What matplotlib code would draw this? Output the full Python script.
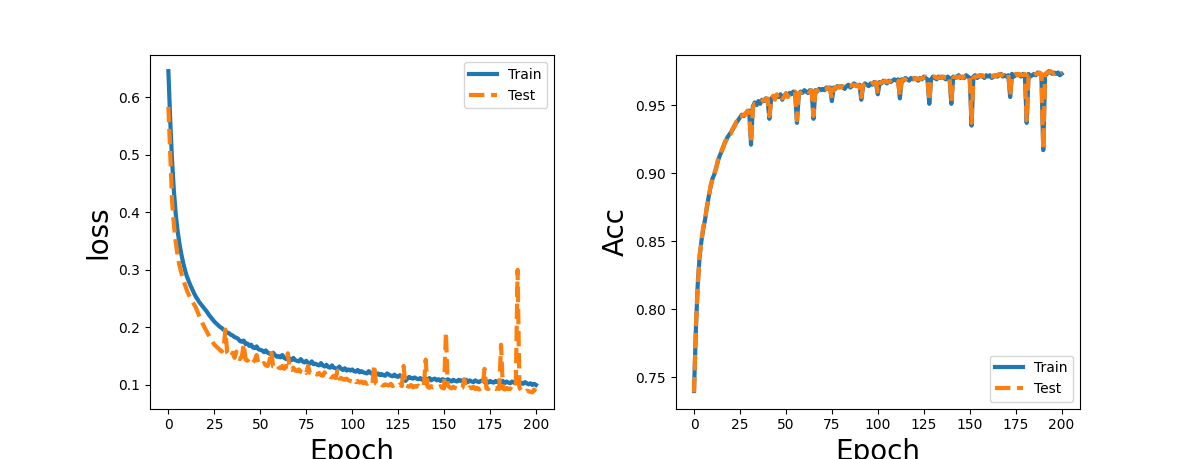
import matplotlib
matplotlib.use("Agg")
import matplotlib.pyplot as plt
import numpy as np

epochs = np.arange(201)

train_loss = [
    0.645, 0.560, 0.490, 0.437, 0.397, 0.368, 0.346, 0.328, 0.313, 0.300,
    0.289, 0.281, 0.273, 0.266, 0.259, 0.253, 0.248, 0.243, 0.239, 0.235,
    0.231, 0.227, 0.222, 0.218, 0.214, 0.210, 0.207, 0.204, 0.201, 0.199,
    0.196, 0.194, 0.191, 0.190, 0.187, 0.186, 0.183, 0.182, 0.180, 0.176,
    0.175, 0.177, 0.171, 0.172, 0.168, 0.170, 0.165, 0.164, 0.167, 0.162,
    0.161, 0.160, 0.157, 0.160, 0.156, 0.155, 0.152, 0.156, 0.152, 0.149,
    0.150, 0.148, 0.152, 0.147, 0.145, 0.149, 0.145, 0.143, 0.147, 0.143,
    0.142, 0.141, 0.145, 0.141, 0.139, 0.142, 0.138, 0.137, 0.141, 0.136,
    0.137, 0.135, 0.134, 0.138, 0.134, 0.132, 0.135, 0.131, 0.130, 0.134,
    0.130, 0.129, 0.128, 0.132, 0.128, 0.126, 0.129, 0.125, 0.127, 0.125,
    0.127, 0.124, 0.123, 0.126, 0.122, 0.124, 0.122, 0.121, 0.120, 0.124,
    0.121, 0.119, 0.122, 0.118, 0.120, 0.117, 0.119, 0.117, 0.116, 0.120,
    0.118, 0.116, 0.115, 0.118, 0.115, 0.114, 0.117, 0.114, 0.113, 0.107,
    0.111, 0.114, 0.112, 0.111, 0.113, 0.111, 0.110, 0.112, 0.109, 0.111,
    0.111, 0.109, 0.112, 0.108, 0.110, 0.111, 0.108, 0.110, 0.107, 0.110,
    0.109, 0.107, 0.110, 0.108, 0.106, 0.109, 0.107, 0.106, 0.109, 0.107,
    0.108, 0.106, 0.109, 0.105, 0.108, 0.106, 0.105, 0.108, 0.106, 0.105,
    0.107, 0.108, 0.105, 0.107, 0.104, 0.107, 0.105, 0.104, 0.107, 0.105,
    0.106, 0.104, 0.107, 0.103, 0.106, 0.104, 0.103, 0.106, 0.104, 0.103,
    0.105, 0.106, 0.103, 0.102, 0.105, 0.103, 0.101, 0.103, 0.100, 0.102,
    0.100,
]

test_loss = [
    0.583, 0.500, 0.420, 0.378, 0.348, 0.325, 0.308, 0.295, 0.284, 0.274,
    0.265, 0.257, 0.251, 0.245, 0.240, 0.234, 0.226, 0.218, 0.211, 0.204,
    0.198, 0.192, 0.186, 0.180, 0.175, 0.170, 0.167, 0.164, 0.161, 0.158,
    0.162, 0.196, 0.156, 0.152, 0.149, 0.156, 0.147, 0.158, 0.146, 0.145,
    0.150, 0.171, 0.144, 0.142, 0.146, 0.140, 0.139, 0.143, 0.152, 0.137,
    0.136, 0.135, 0.138, 0.134, 0.133, 0.142, 0.159, 0.132, 0.131, 0.135,
    0.130, 0.129, 0.133, 0.128, 0.131, 0.155, 0.127, 0.126, 0.130, 0.125,
    0.124, 0.127, 0.123, 0.122, 0.126, 0.121, 0.133, 0.121, 0.120, 0.123,
    0.119, 0.118, 0.121, 0.117, 0.116, 0.122, 0.115, 0.117, 0.114, 0.113,
    0.116, 0.112, 0.125, 0.111, 0.112, 0.110, 0.109, 0.111, 0.108, 0.107,
    0.106, 0.110, 0.105, 0.107, 0.104, 0.106, 0.103, 0.105, 0.102, 0.104,
    0.103, 0.101, 0.135, 0.102, 0.100, 0.103, 0.100, 0.099, 0.101, 0.100,
    0.099, 0.102, 0.098, 0.100, 0.099, 0.097, 0.101, 0.098, 0.133, 0.099,
    0.098, 0.097, 0.100, 0.096, 0.098, 0.097, 0.099, 0.096, 0.097, 0.098,
    0.144, 0.097, 0.095, 0.098, 0.096, 0.097, 0.095, 0.096, 0.098, 0.095,
    0.094, 0.191, 0.099, 0.096, 0.094, 0.097, 0.095, 0.094, 0.096, 0.093,
    0.095, 0.110, 0.094, 0.093, 0.096, 0.094, 0.097, 0.093, 0.095, 0.092,
    0.094, 0.096, 0.128, 0.094, 0.093, 0.095, 0.092, 0.094, 0.093, 0.095,
    0.093, 0.170, 0.094, 0.092, 0.095, 0.093, 0.094, 0.092, 0.093, 0.095,
    0.300, 0.095, 0.091, 0.088, 0.087, 0.090, 0.089, 0.088, 0.087, 0.092,
    0.089,
]

train_acc = [
    0.740, 0.785, 0.818, 0.838, 0.850, 0.859, 0.866, 0.875, 0.883, 0.890,
    0.896, 0.899, 0.904, 0.909, 0.913, 0.916, 0.920, 0.923, 0.926, 0.928,
    0.930, 0.932, 0.935, 0.937, 0.939, 0.941, 0.943, 0.942, 0.944, 0.945,
    0.946, 0.921, 0.949, 0.952, 0.950, 0.953, 0.951, 0.954, 0.953, 0.955,
    0.954, 0.940, 0.955, 0.956, 0.955, 0.957, 0.956, 0.958, 0.954, 0.957,
    0.958, 0.957, 0.959, 0.958, 0.960, 0.959, 0.937, 0.958, 0.960, 0.959,
    0.961, 0.960, 0.959, 0.961, 0.960, 0.940, 0.961, 0.960, 0.962, 0.961,
    0.962, 0.961, 0.963, 0.962, 0.963, 0.953, 0.963, 0.962, 0.964, 0.963,
    0.964, 0.963, 0.962, 0.964, 0.965, 0.963, 0.964, 0.966, 0.965, 0.964,
    0.965, 0.954, 0.964, 0.966, 0.965, 0.964, 0.966, 0.965, 0.967, 0.966,
    0.958, 0.967, 0.966, 0.968, 0.967, 0.966, 0.968, 0.967, 0.968, 0.969,
    0.968, 0.969, 0.955, 0.969, 0.968, 0.970, 0.969, 0.968, 0.970, 0.969,
    0.970, 0.969, 0.968, 0.970, 0.969, 0.971, 0.970, 0.969, 0.951, 0.969,
    0.971, 0.970, 0.969, 0.971, 0.970, 0.971, 0.970, 0.969, 0.971, 0.970,
    0.951, 0.971, 0.970, 0.971, 0.972, 0.970, 0.971, 0.970, 0.972, 0.971,
    0.970, 0.935, 0.971, 0.972, 0.970, 0.971, 0.972, 0.971, 0.970, 0.972,
    0.971, 0.972, 0.970, 0.971, 0.972, 0.971, 0.972, 0.973, 0.971, 0.972,
    0.971, 0.972, 0.956, 0.973, 0.971, 0.972, 0.973, 0.972, 0.971, 0.973,
    0.972, 0.937, 0.973, 0.971, 0.972, 0.973, 0.972, 0.974, 0.973, 0.972,
    0.917, 0.972, 0.973, 0.975, 0.974, 0.973, 0.974, 0.973, 0.974, 0.972,
    0.973,
]

test_acc = [
    0.739, 0.787, 0.816, 0.840, 0.849, 0.861, 0.865, 0.876, 0.882, 0.891,
    0.895, 0.900, 0.903, 0.910, 0.912, 0.917, 0.919, 0.924, 0.925, 0.929,
    0.929, 0.933, 0.934, 0.938, 0.938, 0.942, 0.942, 0.943, 0.943, 0.946,
    0.945, 0.923, 0.948, 0.951, 0.951, 0.952, 0.952, 0.953, 0.954, 0.954,
    0.955, 0.942, 0.954, 0.957, 0.954, 0.958, 0.955, 0.957, 0.955, 0.956,
    0.959, 0.956, 0.958, 0.959, 0.959, 0.960, 0.939, 0.959, 0.959, 0.960,
    0.960, 0.961, 0.960, 0.960, 0.961, 0.942, 0.960, 0.961, 0.961, 0.962,
    0.961, 0.962, 0.962, 0.963, 0.962, 0.955, 0.962, 0.963, 0.963, 0.964,
    0.963, 0.964, 0.963, 0.963, 0.964, 0.964, 0.965, 0.965, 0.964, 0.965,
    0.964, 0.956, 0.965, 0.965, 0.966, 0.965, 0.965, 0.966, 0.966, 0.967,
    0.960, 0.966, 0.967, 0.967, 0.968, 0.967, 0.967, 0.968, 0.969, 0.968,
    0.969, 0.968, 0.957, 0.968, 0.969, 0.969, 0.970, 0.969, 0.969, 0.970,
    0.969, 0.970, 0.969, 0.969, 0.970, 0.970, 0.971, 0.970, 0.953, 0.970,
    0.970, 0.971, 0.970, 0.970, 0.971, 0.970, 0.971, 0.970, 0.970, 0.971,
    0.953, 0.970, 0.971, 0.970, 0.971, 0.971, 0.970, 0.971, 0.971, 0.972,
    0.971, 0.937, 0.970, 0.971, 0.971, 0.972, 0.971, 0.972, 0.971, 0.971,
    0.972, 0.971, 0.971, 0.972, 0.971, 0.972, 0.973, 0.972, 0.972, 0.971,
    0.972, 0.973, 0.957, 0.972, 0.972, 0.973, 0.972, 0.973, 0.972, 0.972,
    0.973, 0.939, 0.972, 0.972, 0.973, 0.972, 0.973, 0.973, 0.974, 0.973,
    0.918, 0.973, 0.974, 0.974, 0.975, 0.974, 0.973, 0.974, 0.973, 0.973,
    0.974,
]

fig, (ax1, ax2) = plt.subplots(1, 2, figsize=(12, 4.59))
plt.subplots_adjust(wspace=0.3)

ax1.plot(epochs, train_loss, '-', lw=3, label='Train')
ax1.plot(epochs, test_loss, '--', lw=3, label='Test')
ax1.set_xlabel('Epoch', fontsize=20)
ax1.set_ylabel('loss', fontsize=20)
ax1.legend(loc='upper right')

ax2.plot(epochs, train_acc, '-', lw=3, label='Train')
ax2.plot(epochs, test_acc, '--', lw=3, label='Test')
ax2.set_xlabel('Epoch', fontsize=20)
ax2.set_ylabel('Acc', fontsize=20)
ax2.legend(loc='lower right')

plt.savefig("out.png", dpi=100)
